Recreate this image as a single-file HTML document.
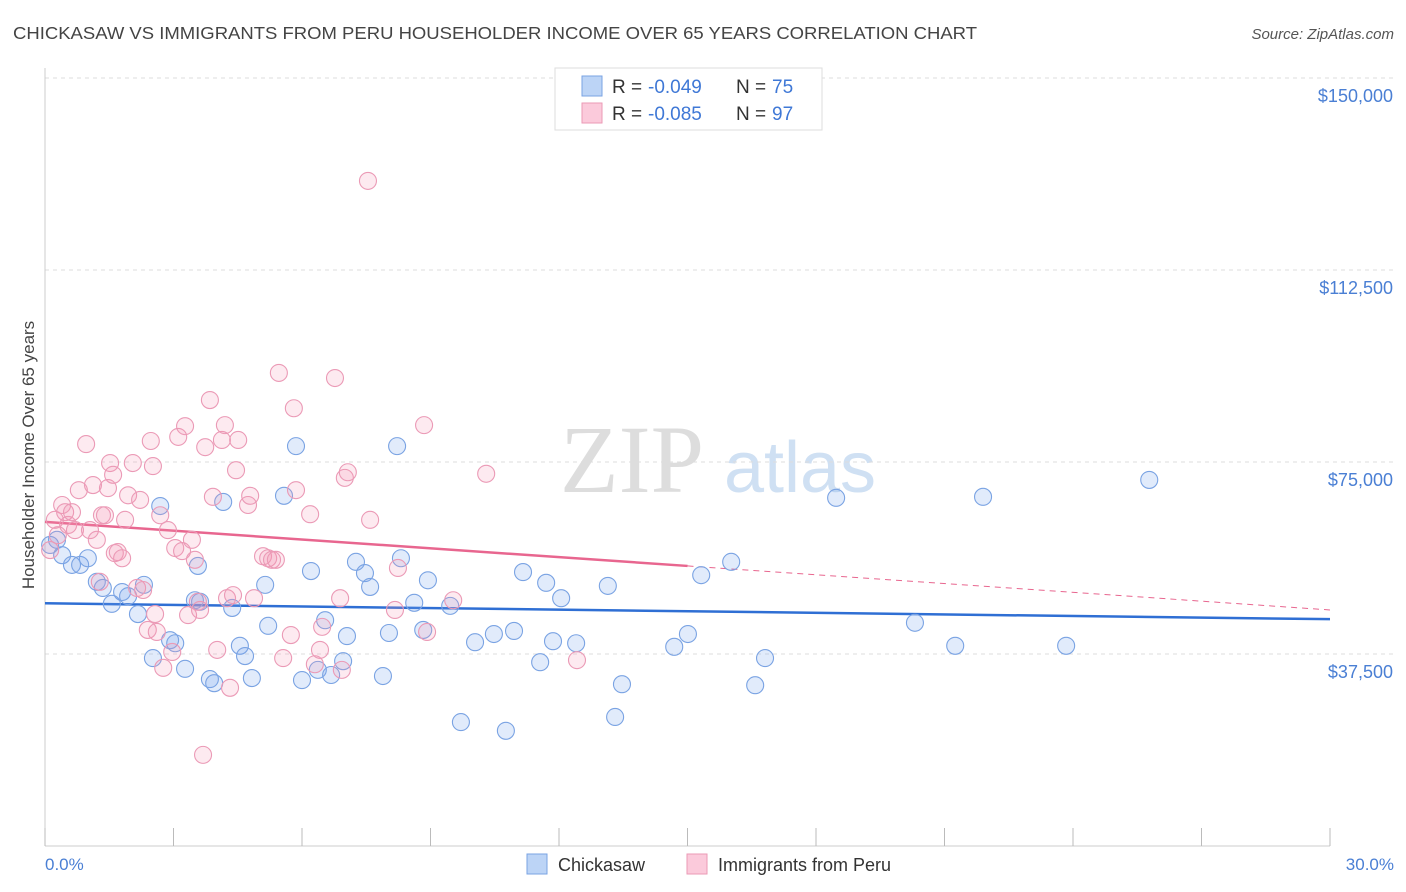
<!DOCTYPE html>
<html><head><meta charset="utf-8">
<style>
body{margin:0;background:#fff;font-family:"Liberation Sans",sans-serif;}
svg{display:block}
</style></head><body>
<svg id="chart" width="1406" height="892" xmlns="http://www.w3.org/2000/svg">
<text x="13" y="39" font-size="17.5" fill="#444" textLength="964" lengthAdjust="spacingAndGlyphs">CHICKASAW VS IMMIGRANTS FROM PERU HOUSEHOLDER INCOME OVER 65 YEARS CORRELATION CHART</text>
<text x="1394" y="39" font-size="15" fill="#555" text-anchor="end" font-style="italic">Source: ZipAtlas.com</text>
<g>
<text x="632" y="492" font-size="96" fill="#ddd" text-anchor="middle" font-family="Liberation Serif,serif">ZIP</text>
<text x="800" y="492" font-size="72" fill="#cfe0f3" text-anchor="middle">atlas</text>
</g>
<g id="grid"></g><g id="axes"></g><g id="trends"></g><g id="pts"></g>
<text transform="translate(34,455) rotate(-90)" font-size="17" fill="#444" text-anchor="middle">Householder Income Over 65 years</text>
<text x="45" y="870" font-size="17" fill="#4a7fd4">0.0%</text>
<text x="1394" y="870" font-size="17" fill="#4a7fd4" text-anchor="end">30.0%</text>
<g>
<rect x="555" y="68" width="267" height="62" fill="#fff" stroke="#ddd"/>
<rect x="582" y="76" width="20" height="20" fill="#bcd4f6" stroke="#7aa3e3"/>
<rect x="582" y="103" width="20" height="20" fill="#fbcadb" stroke="#eb9ab6"/>
<text x="612" y="93" font-size="19" fill="#333">R =</text>
<text x="648" y="93" font-size="19" fill="#3f78d6">-0.049</text>
<text x="736" y="93" font-size="19" fill="#333">N =</text>
<text x="772" y="93" font-size="19" fill="#3f78d6">75</text>
<text x="612" y="120" font-size="19" fill="#333">R =</text>
<text x="648" y="120" font-size="19" fill="#3f78d6">-0.085</text>
<text x="736" y="120" font-size="19" fill="#333">N =</text>
<text x="772" y="120" font-size="19" fill="#3f78d6">97</text>
</g>
<g>
<rect x="527" y="854" width="20" height="20" fill="#bcd4f6" stroke="#7aa3e3"/>
<text x="558" y="871" font-size="18" fill="#333">Chickasaw</text>
<rect x="687" y="854" width="20" height="20" fill="#fbcadb" stroke="#eb9ab6"/>
<text x="718" y="871" font-size="18" fill="#333">Immigrants from Peru</text>
</g>
</svg>
<script>
const yTicks=[37500,75000,112500,150000];
const yTickLabels=["$37,500","$75,000","$112,500","$150,000"];
const xTicks=[0,3,6,9,12,15,18,21,24,27,30];
const blueX=[0.12,0.28,0.4,0.63,0.82,1.0,1.21,1.35,1.56,1.8,1.94,2.17,2.31,2.52,2.69,2.92,3.04,3.27,3.5,3.57,3.62,3.85,3.95,4.16,4.37,4.55,4.67,4.83,5.14,5.21,5.58,5.86,6.0,6.21,6.37,6.54,6.68,6.96,7.05,7.26,7.47,7.59,7.89,8.03,8.22,8.31,8.62,8.83,8.94,9.46,9.71,10.04,10.48,10.76,10.95,11.16,11.56,11.7,11.86,12.05,12.4,13.14,13.31,13.47,14.69,15.01,15.32,16.02,16.58,16.81,18.47,20.31,21.25,21.9,23.84,25.78];
const blueY=[58800,59800,56800,54900,54900,56200,51600,50400,47300,49600,48800,45300,51000,36700,66400,40200,39600,34600,48000,54700,47700,32600,31800,67200,46500,39100,37100,32800,51000,43000,68400,78100,32400,53700,34400,44100,33400,36100,41000,55500,53300,50600,33200,41600,78100,56200,47500,42200,51900,46900,24200,39800,41400,22500,42000,53500,35900,51400,40000,48400,39600,50800,25200,31600,38900,41400,52900,55500,31400,36700,68000,43600,39100,68200,39100,71500];
const pinkX=[0.12,0.23,0.3,0.4,0.47,0.54,0.63,0.7,0.79,0.96,1.05,1.12,1.21,1.28,1.33,1.4,1.47,1.52,1.59,1.63,1.7,1.8,1.87,1.94,2.05,2.15,2.22,2.29,2.4,2.47,2.52,2.57,2.61,2.69,2.76,2.87,2.97,3.04,3.11,3.2,3.27,3.34,3.43,3.5,3.57,3.62,3.69,3.74,3.85,3.92,4.02,4.13,4.2,4.25,4.32,4.39,4.46,4.51,4.74,4.79,4.88,5.09,5.21,5.3,5.39,5.46,5.56,5.74,5.81,5.86,6.19,6.3,6.42,6.47,6.77,6.89,6.93,7.0,7.07,7.54,7.59,8.17,8.24,8.85,8.92,9.53,10.3,12.42];
const pinkY=[57800,63700,60700,66600,65200,62700,65200,61700,69500,78500,61700,70500,59800,51600,64600,64600,69900,74800,72500,57200,57400,56200,63700,68500,74800,50400,67600,50000,42200,79100,74200,45300,41800,64600,34800,61700,37900,58200,79900,57600,82000,45100,59800,55900,47700,46100,17800,77900,87100,68200,38300,79300,82200,48400,30900,49000,73400,79300,66600,68400,48400,56600,56200,55900,55900,92400,36700,41200,85500,69500,64800,35500,38300,42800,91400,48400,34400,71900,73000,129900,63700,46100,54300,82200,41800,48000,72700,36300];
const blueTrend=[47400,44300];
const pinkTrend=[63300,46100];
const pinkSolidEnd=15;
const NS="http://www.w3.org/2000/svg";
const X0=45,X1=1330,YB=846,PXPER=192/37500;
const xs=v=>X0+(X1-X0)*v/30;
const ys=v=>YB-v*PXPER;
function mk(tag,parent,attrs){const e=document.createElementNS(NS,tag);for(const k in attrs)e.setAttribute(k,attrs[k]);document.getElementById(parent).appendChild(e);return e;}
yTicks.forEach((t,i)=>{
 const l=mk('line','grid',{x1:X0,x2:1394,y1:ys(t),y2:ys(t),stroke:'#ddd','stroke-dasharray':'4,4'});
 
 
 const tx=mk('text','grid',{x:1393,y:ys(t)+24,'font-size':18,fill:'#4a7fd4','text-anchor':'end'});
 tx.textContent=yTickLabels[i];
 
 
});
const tl=mk('line','grid',{x1:X0,x2:1394,y1:78,y2:78,stroke:'#ddd','stroke-dasharray':'4,4'});
const ax=mk('line','axes',{x1:X0,x2:X1,y1:YB,y2:YB,stroke:'#ccc'});


const ay=mk('line','axes',{x1:X0,x2:X0,y1:68,y2:YB,stroke:'#ccc'});


xTicks.forEach(t=>{
 const l=mk('line','axes',{x1:xs(t),x2:xs(t),y1:828,y2:YB,stroke:'#bbb'});
 
 
});
function dot(x,y,fill,stroke,name){
 const c=mk('circle','pts',{cx:xs(x),cy:ys(y),r:8.5,fill:fill,stroke:stroke,'stroke-width':1.1});
 
 
}
blueX.forEach((x,i)=>dot(x,blueY[i],'rgba(120,165,235,0.22)','#7aa3e3','chickasaw-point'));
pinkX.forEach((x,i)=>dot(x,pinkY[i],'rgba(243,150,180,0.2)','#eb9ab6','peru-point'));
const bt=mk('line','trends',{x1:xs(0),y1:ys(blueTrend[0]),x2:xs(30),y2:ys(blueTrend[1]),stroke:'#2f6fd4','stroke-width':2.5});


const pAt=x=>pinkTrend[0]+(pinkTrend[1]-pinkTrend[0])*x/30;
const ps=mk('line','trends',{x1:xs(0),y1:ys(pAt(0)),x2:xs(pinkSolidEnd),y2:ys(pAt(pinkSolidEnd)),stroke:'#e8668f','stroke-width':2.5});


const pd=mk('line','trends',{x1:xs(pinkSolidEnd),y1:ys(pAt(pinkSolidEnd)),x2:xs(30),y2:ys(pAt(30)),stroke:'#e8668f','stroke-width':1,'stroke-dasharray':'6,5'});


</script>
</body></html>
